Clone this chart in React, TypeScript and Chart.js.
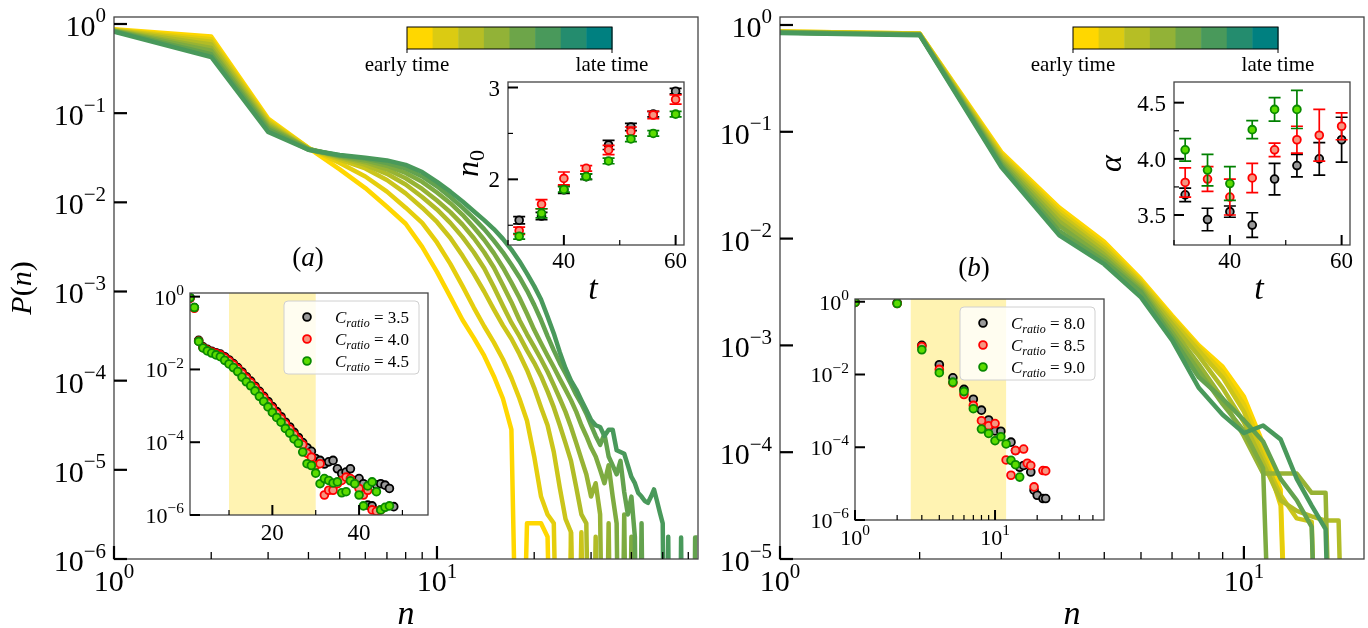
import React, { useEffect, useRef } from 'react';
import { Chart, registerables } from 'chart.js';

Chart.register(...registerables);

const W = 1368;
const H = 628;
const FONT = '"Liberation Serif", "DejaVu Serif", serif';
const Z = -9; // P(n) = 0 : drawn below the axis floor

// ---------- colours ----------
const CBAR_COLORS = ['#FFD700', '#DBCB12', '#B6BE25', '#92B237', '#6DA549', '#49995B', '#248C6E', '#008080'];
const LINE_COLORS = ['#FFD700', '#E5CE0D', '#CBC51A', '#B1BC27', '#97B334', '#7DAB41', '#63A24E', '#49995B'];
const SER_FILL = ['#9a9a9a', '#F59682', '#5CDC00'];
const SER_EDGE = ['#000000', '#FF0000', '#0A8A00'];
const SER_ERR = ['#000000', '#FF0000', '#008000'];

// ---------- panel (a) main : log10 P(n), n = 1, 2, 3, ... (early -> late time) ----------
const aLine0 = [-0.06, -0.14, -1.06, -1.39, -1.63, -1.84, -2.05, -2.24, -2.50, -2.78, -3.06, -3.32, -3.52, -3.72, -3.95, -4.20, -4.55, Z, -5.60, -5.60, -5.60, -5.75, Z];
const aLine1 = [-0.065, -0.17, -1.08, -1.39, -1.56, -1.71, -1.88, -2.06, -2.23, -2.45, -2.69, -2.94, -3.18, -3.39, -3.57, -3.76, -3.97, -4.20, -4.45, -4.85, -5.30, -5.50, -5.60, Z, Z, -5.70, Z];
const aLine2 = [-0.068, -0.20, -1.10, -1.40, -1.52, -1.62, -1.75, -1.90, -2.06, -2.22, -2.40, -2.60, -2.80, -3.00, -3.20, -3.38, -3.53, -3.70, -3.88, -4.08, -4.30, -4.50, -4.80, -5.20, -5.55, -5.70, Z, -5.70, Z];
const aLine3 = [-0.072, -0.23, -1.12, -1.40, -1.50, -1.58, -1.68, -1.80, -1.94, -2.08, -2.23, -2.39, -2.56, -2.74, -2.95, -3.16, -3.35, -3.50, -3.66, -3.80, -3.95, -4.12, -4.30, -4.50, -4.70, -4.90, -5.20, -5.50, -5.60, Z, -5.75, Z];
const aLine4 = [-0.075, -0.27, -1.14, -1.40, -1.49, -1.55, -1.63, -1.73, -1.85, -1.98, -2.11, -2.25, -2.40, -2.56, -2.73, -2.93, -3.12, -3.32, -3.48, -3.62, -3.76, -3.90, -4.05, -4.20, -4.35, -4.52, -4.70, -4.88, -5.05, -5.30, -5.15, -5.50, Z, -5.60, Z];
const aLine5 = [-0.078, -0.30, -1.16, -1.40, -1.48, -1.53, -1.59, -1.67, -1.77, -1.89, -2.01, -2.14, -2.28, -2.42, -2.57, -2.73, -2.90, -3.07, -3.25, -3.43, -3.58, -3.72, -3.85, -3.98, -4.10, -4.22, -4.35, -4.50, -4.62, -4.75, -4.85, -5.00, -5.15, -4.95, -5.30, -5.60, Z, -5.50, Z, -5.75, Z];
const aLine6 = [-0.082, -0.34, -1.18, -1.41, -1.475, -1.51, -1.56, -1.62, -1.71, -1.82, -1.94, -2.06, -2.18, -2.30, -2.43, -2.56, -2.70, -2.84, -2.99, -3.15, -3.32, -3.50, -3.66, -3.80, -3.92, -4.04, -4.16, -4.26, -4.37, -4.50, -4.62, -4.72, -4.60, -4.85, -4.95, -5.05, -4.90, -5.25, -5.50, -5.30, -5.75, Z, -5.60, Z, Z, Z, Z, Z, Z, Z, Z, Z, Z, Z, Z, Z, Z, Z, Z, Z, Z, Z, -5.76, -5.76];
const aLine7 = [-0.085, -0.37, -1.21, -1.41, -1.47, -1.50, -1.53, -1.58, -1.66, -1.77, -1.88, -1.99, -2.10, -2.20, -2.30, -2.41, -2.53, -2.66, -2.80, -2.94, -3.09, -3.28, -3.47, -3.68, -3.86, -4.00, -4.10, -4.22, -4.33, -4.44, -4.50, -4.52, -4.62, -4.55, -4.55, -4.78, -4.80, -4.82, -4.95, -5.08, -5.15, -5.26, -5.30, -5.35, -5.37, -5.30, -5.22, -5.35, -5.48, -5.60, Z, -5.75, Z, Z, Z, Z, -5.76, Z];

// ---------- panel (b) main ----------
const bLine0 = [-0.06, -0.08, -1.19, -1.71, -2.03, -2.38, -2.72, -3.00, -3.20, -3.48, -3.92, -4.35, Z];
const bLine1 = [-0.06, -0.08, -1.21, -1.74, -2.06, -2.40, -2.74, -3.02, -3.25, -3.55, -3.98, -4.50, Z];
const bLine2 = [-0.065, -0.085, -1.23, -1.77, -2.09, -2.42, -2.77, -3.05, -3.30, -3.62, -4.05, -4.40, -4.62, -4.65, Z];
const bLine3 = [-0.065, -0.085, -1.25, -1.80, -2.12, -2.44, -2.80, -3.10, -3.40, -3.72, -4.10, -4.45, -4.55, -4.60, -4.64, -4.64, Z];
const bLine4 = [-0.07, -0.09, -1.27, -1.84, -2.15, -2.46, -2.84, -3.18, -3.50, -3.85, -4.20, -4.20, -4.20, -4.38, -4.38, Z];
const bLine5 = [-0.07, -0.09, -1.29, -1.88, -2.18, -2.48, -2.88, -3.24, -3.55, -3.80, -4.15, Z];
const bLine6 = [-0.07, -0.09, -1.31, -1.93, -2.21, -2.50, -2.92, -3.30, -3.50, -3.70, -3.90, -4.25, -4.45, -4.70, Z];
const bLine7 = [-0.075, -0.095, -1.33, -1.97, -2.24, -2.55, -2.95, -3.40, -3.65, -3.82, -3.75, -3.88, -4.25, -4.50, -4.72, Z];

// ---------- panel (a) upper inset : n0 vs t ----------
const T_A = [32, 36, 40, 44, 48, 52, 56, 60];
const n0_35 = [1.555, 1.60, 1.886, 2.03, 2.375, 2.57, 2.71, 2.96];
const n0_35_err = [0.04, 0.04, 0.04, 0.03, 0.05, 0.04, 0.03, 0.03];
const n0_40 = [1.44, 1.73, 2.01, 2.12, 2.32, 2.52, 2.70, 2.87];
const n0_40_err = [0.04, 0.05, 0.07, 0.03, 0.05, 0.05, 0.04, 0.05];
const n0_45 = [1.38, 1.63, 1.89, 2.03, 2.20, 2.44, 2.50, 2.71];
const n0_45_err = [0.03, 0.05, 0.03, 0.03, 0.03, 0.03, 0.03, 0.03];

// ---------- panel (b) upper inset : alpha vs t ----------
const T_B = [32, 36, 40, 44, 48, 52, 56, 60];
const T_B_GREEN = [32, 36, 40, 44, 48, 52];
const al_80 = [3.68, 3.46, 3.53, 3.41, 3.82, 3.94, 4.00, 4.17];
const al_80_err = [0.06, 0.10, 0.05, 0.11, 0.14, 0.10, 0.145, 0.20];
const al_85 = [3.79, 3.82, 3.66, 3.83, 4.08, 4.17, 4.21, 4.29];
const al_85_err = [0.13, 0.11, 0.16, 0.13, 0.06, 0.12, 0.23, 0.12];
const al_90 = [4.08, 3.90, 3.78, 4.26, 4.44, 4.44];
const al_90_err = [0.10, 0.14, 0.15, 0.08, 0.105, 0.17];

// ---------- panel (a) lower inset : log10 P(n), n = 1, 2, ... ----------
const la_35 = [-0.03, -0.30, -1.20, -1.38, -1.45, -1.50, -1.54, -1.58, -1.65, -1.74, -1.84, -1.95, -2.07, -2.20, -2.32, -2.46, -2.60, -2.74, -2.88, -3.02, -3.16, -3.30, -3.45, -3.58, -3.73, -3.87, -4.01, -4.15, -4.25, -4.45, -4.50, -4.60, -4.54, -4.50, -4.73, -4.86, -4.82, -4.73, -5.05, -5.00, -5.14, -5.73, -5.75, -5.17, -5.14, -5.18, -5.27, -5.77];
const la_40 = [-0.05, -0.32, -1.22, -1.40, -1.47, -1.52, -1.56, -1.60, -1.68, -1.77, -1.87, -1.98, -2.11, -2.24, -2.36, -2.50, -2.64, -2.78, -2.93, -3.07, -3.21, -3.35, -3.50, -3.64, -3.79, -3.93, -4.07, -4.30, -4.41, -4.64, -4.59, -5.45, -5.32, -5.32, -5.14, -5.05, -4.96, -5.00, -5.14, -5.27, -5.45, -5.32, -5.86, -5.90, -5.86];
const la_45 = [-0.03, -0.30, -1.23, -1.41, -1.49, -1.55, -1.60, -1.65, -1.75, -1.85, -1.95, -2.06, -2.21, -2.34, -2.45, -2.59, -2.74, -2.88, -3.03, -3.18, -3.32, -3.45, -3.62, -3.75, -3.91, -4.03, -4.27, -4.59, -4.64, -4.85, -5.14, -5.00, -5.05, -5.12, -5.09, -5.39, -5.36, -5.06, -5.14, -5.45, -5.75, -5.20, -5.09, -5.36, -5.86, -5.79, -5.75];

// ---------- panel (b) lower inset ----------
const nb_80 = [1, 2, 3, 4, 5, 6, 7, 8, 9, 10, 11, 13, 14, 15, 16, 18, 19, 20, 22, 23];
const lb_80 = [-0.02, -0.03, -1.20, -1.73, -2.09, -2.41, -2.68, -2.98, -3.25, -3.55, -3.56, -3.86, -4.09, -4.55, -4.50, -4.68, -5.18, -5.32, -5.41, -5.41];
const nb_85 = [1, 2, 3, 4, 5, 6, 7, 8, 9, 10, 12, 13, 14, 16, 17, 18, 19, 22, 23];
const lb_85 = [-0.02, -0.05, -1.23, -1.86, -2.23, -2.55, -2.85, -3.27, -3.41, -3.35, -4.35, -4.77, -4.09, -4.05, -4.44, -4.50, -5.09, -4.64, -4.65];
const nb_90 = [1, 2, 3, 4, 5, 6, 7, 8, 9, 10, 11, 12, 13, 14, 15];
const lb_90 = [-0.02, -0.05, -1.32, -1.95, -2.21, -2.47, -2.94, -3.50, -3.62, -3.82, -3.71, -3.91, -4.36, -4.48, -4.82];

// ---------- ticks & labels ----------
const A_Y_EXP = [0, -1, -2, -3, -4, -5, -6];
const B_Y_EXP = [0, -1, -2, -3, -4, -5];
const MAIN_X_EXP = [0, 1];
const A_X_MINOR = [2, 3, 4, 5, 6, 7, 8, 9, 20, 30, 40, 50, 60];
const B_X_MINOR = [2, 3, 4, 5, 6, 7, 8, 9];
const TOP_X_TICKS = [40, 60];
const TOP_X_MINOR = [30, 50];
const A_TOP_Y_TICKS = [2, 3];
const A_TOP_Y_MINOR = [1.5, 2.5];
const B_TOP_Y_TICKS = [3.5, 4.0, 4.5];
const B_TOP_Y_MINOR = [3.75, 4.25];
const LOW_Y_EXP = [0, -2, -4, -6];
const A_LOW_X_TICKS = [20, 40];
const A_LOW_X_MINOR = [10, 30, 50];
const B_LOW_X_EXP = [0, 1];
const B_LOW_X_MINOR = [2, 3, 4, 5, 6, 7, 8, 9, 20, 30, 40, 50];
const LEG_A = ['3.5', '4.0', '4.5'];
const LEG_B = ['8.0', '8.5', '9.0'];
const SHADE_A = [10, 30];
const SHADE_B = [2.5, 12];

// ---------- text helpers ----------
type Run = { t: string; it?: boolean; s: number; dy?: number };
const fontOf = (r: Run) => `${r.it ? 'italic ' : ''}${r.s}px ${FONT}`;
function runsWidth(ctx: CanvasRenderingContext2D, runs: Run[]) {
  let w = 0;
  for (const r of runs) { ctx.font = fontOf(r); w += ctx.measureText(r.t).width; }
  return w;
}
function drawRuns(ctx: CanvasRenderingContext2D, runs: Run[], x: number, y: number, align: 'left' | 'center' | 'right') {
  const w = runsWidth(ctx, runs);
  let cx = align === 'center' ? x - w / 2 : align === 'right' ? x - w : x;
  ctx.textAlign = 'left';
  ctx.textBaseline = 'alphabetic';
  for (const r of runs) {
    ctx.font = fontOf(r);
    ctx.fillText(r.t, cx, y + (r.dy || 0));
    cx += ctx.measureText(r.t).width;
  }
}
function drawRotated(ctx: CanvasRenderingContext2D, runs: Run[], x: number, y: number) {
  ctx.save();
  ctx.translate(x, y);
  ctx.rotate(-Math.PI / 2);
  drawRuns(ctx, runs, 0, 0, 'center');
  ctx.restore();
}
const pow10 = (e: number, s: number): Run[] => [
  { t: '10', s },
  { t: e < 0 ? '\u2212' + (-e) : String(e), s: s * 0.7, dy: -s * 0.45 },
];
const plain = (t: string, s: number): Run[] => [{ t, s }];

type AxOpts = {
  xMajor: number[]; xMinor: number[]; yMajor: number[]; yMinor: number[];
  xLab: (i: number) => Run[]; yLab: (i: number) => Run[];
  majLen: number; minLen: number; majW: number; minW: number;
  xLabOff: number; yLabGap: number; yLabOff: number;
};
function drawAxes(chart: any, o: AxOpts) {
  const ctx: CanvasRenderingContext2D = chart.ctx;
  const a = chart.chartArea;
  const xs = chart.scales.x;
  const ys = chart.scales.y;
  ctx.save();
  ctx.strokeStyle = '#444';
  ctx.lineWidth = 1.3;
  ctx.strokeRect(a.left, a.top, a.right - a.left, a.bottom - a.top);
  ctx.strokeStyle = '#000';
  ctx.lineCap = 'butt';
  const xt = (vals: number[], len: number, w: number) => {
    ctx.lineWidth = w;
    vals.forEach((v) => {
      const p = xs.getPixelForValue(v);
      if (p < a.left - 0.5 || p > a.right + 0.5) return;
      ctx.beginPath(); ctx.moveTo(p, a.bottom); ctx.lineTo(p, a.bottom - len); ctx.stroke();
    });
  };
  const yt = (vals: number[], len: number, w: number) => {
    ctx.lineWidth = w;
    vals.forEach((v) => {
      const p = ys.getPixelForValue(v);
      if (p < a.top - 0.5 || p > a.bottom + 0.5) return;
      ctx.beginPath(); ctx.moveTo(a.left, p); ctx.lineTo(a.left + len, p); ctx.stroke();
    });
  };
  xt(o.xMinor, o.minLen, o.minW);
  xt(o.xMajor, o.majLen, o.majW);
  yt(o.yMinor, o.minLen, o.minW);
  yt(o.yMajor, o.majLen, o.majW);
  ctx.fillStyle = '#000';
  o.xMajor.forEach((v, i) => drawRuns(ctx, o.xLab(i), xs.getPixelForValue(v), a.bottom + o.xLabOff, 'center'));
  o.yMajor.forEach((v, i) => drawRuns(ctx, o.yLab(i), a.left - o.yLabGap, ys.getPixelForValue(v) + o.yLabOff, 'right'));
  ctx.restore();
}

function drawMarker(ctx: CanvasRenderingContext2D, x: number, y: number, k: number) {
  ctx.beginPath();
  ctx.arc(x, y, 3.9, 0, Math.PI * 2);
  ctx.fillStyle = SER_FILL[k];
  ctx.fill();
  ctx.lineWidth = 1.8;
  ctx.strokeStyle = SER_EDGE[k];
  ctx.stroke();
}

function drawLegend(chart: any, labels: string[]) {
  const ctx: CanvasRenderingContext2D = chart.ctx;
  const a = chart.chartArea;
  const bw = 135, bh = 73;
  const bx = a.right - 9 - bw, by = a.top + 8;
  ctx.save();
  ctx.beginPath();
  const r = 4;
  ctx.moveTo(bx + r, by);
  ctx.arcTo(bx + bw, by, bx + bw, by + bh, r);
  ctx.arcTo(bx + bw, by + bh, bx, by + bh, r);
  ctx.arcTo(bx, by + bh, bx, by, r);
  ctx.arcTo(bx, by, bx + bw, by, r);
  ctx.closePath();
  ctx.fillStyle = 'rgba(255,255,255,0.8)';
  ctx.fill();
  ctx.strokeStyle = '#d0d0d0';
  ctx.lineWidth = 1;
  ctx.stroke();
  labels.forEach((lab, k) => {
    const cy = by + 16 + k * 22;
    drawMarker(ctx, bx + 23, cy, k);
    ctx.fillStyle = '#000';
    drawRuns(ctx, [
      { t: 'C', it: true, s: 17 },
      { t: 'ratio', it: true, s: 12, dy: 4 },
      { t: ' = ' + lab, s: 17 },
    ], bx + 51, cy + 6, 'left');
  });
  ctx.restore();
}

function drawColorbar(chart: any, letter: string, letterBaseline: number) {
  const ctx: CanvasRenderingContext2D = chart.ctx;
  const a = chart.chartArea;
  const x0 = a.left + 293, w = 205, y0 = a.top + 10, h = 22;
  ctx.save();
  const sw = w / CBAR_COLORS.length;
  CBAR_COLORS.forEach((c, i) => {
    ctx.fillStyle = c;
    ctx.fillRect(x0 + i * sw, y0, sw + 0.5, h);
  });
  ctx.strokeStyle = '#000';
  ctx.lineWidth = 1;
  ctx.strokeRect(x0, y0, w, h);
  ctx.beginPath();
  ctx.moveTo(x0, y0 + h); ctx.lineTo(x0, y0 + h + 4);
  ctx.moveTo(x0 + w, y0 + h); ctx.lineTo(x0 + w, y0 + h + 4);
  ctx.stroke();
  ctx.fillStyle = '#000';
  drawRuns(ctx, plain('early time', 21), x0, a.top + 54, 'center');
  drawRuns(ctx, plain('late time', 21), x0 + w, a.top + 54, 'center');
  drawRuns(ctx, [{ t: '(', s: 27 }, { t: letter, it: true, s: 27 }, { t: ')', s: 27 }], a.left + 194, letterBaseline, 'center');
  ctx.restore();
}

const bgPlugin = (shade?: number[]) => ({
  id: 'bg',
  beforeDatasetsDraw(chart: any) {
    const ctx: CanvasRenderingContext2D = chart.ctx;
    const a = chart.chartArea;
    ctx.save();
    ctx.fillStyle = '#ffffff';
    ctx.fillRect(a.left, a.top, a.right - a.left, a.bottom - a.top);
    if (shade) {
      const x1 = chart.scales.x.getPixelForValue(shade[0]);
      const x2 = chart.scales.x.getPixelForValue(shade[1]);
      ctx.fillStyle = 'rgba(255,215,0,0.3)';
      ctx.fillRect(x1, a.top, x2 - x1, a.bottom - a.top);
    }
    ctx.restore();
  },
});

const errPlugin = {
  id: 'errbars',
  beforeDatasetDraw(chart: any, args: any) {
    const ds: any = chart.data.datasets[args.index];
    if (!ds.err) return;
    const ctx: CanvasRenderingContext2D = chart.ctx;
    const a = chart.chartArea;
    const xs = chart.scales.x, ys = chart.scales.y;
    ctx.save();
    ctx.beginPath();
    ctx.rect(a.left, a.top, a.right - a.left, a.bottom - a.top);
    ctx.clip();
    ctx.strokeStyle = ds.errColor;
    ctx.lineWidth = 1.7;
    ds.data.forEach((p: any, i: number) => {
      const px = xs.getPixelForValue(p.x);
      const y1 = ys.getPixelForValue(p.y - ds.err[i]);
      const y2 = ys.getPixelForValue(p.y + ds.err[i]);
      ctx.beginPath();
      ctx.moveTo(px, y1); ctx.lineTo(px, y2);
      ctx.moveTo(px - 6, y1); ctx.lineTo(px + 6, y1);
      ctx.moveTo(px - 6, y2); ctx.lineTo(px + 6, y2);
      ctx.stroke();
    });
    ctx.restore();
  },
};

const fromLogs = (logs: number[]) => logs.map((v, i) => ({ x: i + 1, y: v === null ? null : Math.pow(10, v) }));
const fromPairs = (ns: number[], logs: number[]) => ns.map((n, i) => ({ x: n, y: Math.pow(10, logs[i]) }));
const fromXY = (xs: number[], ys: number[]) => xs.map((x, i) => ({ x, y: ys[i] }));

const baseOpts = (area: { l: number; t: number; r: number; b: number }, x: any, y: any) => ({
  responsive: false,
  animation: false,
  devicePixelRatio: 1,
  events: [],
  layout: { padding: { left: area.l, top: area.t, right: W - area.r, bottom: H - area.b } },
  scales: {
    x: { display: false, bounds: 'data', ...x },
    y: { display: false, bounds: 'data', ...y },
  },
  plugins: { legend: { display: false }, tooltip: { enabled: false } },
});

const scatterSet = (data: any[], k: number, err?: number[]) => ({
  data,
  showLine: false,
  pointRadius: 3.9,
  pointBorderWidth: 1.8,
  pointBackgroundColor: SER_FILL[k],
  pointBorderColor: SER_EDGE[k],
  backgroundColor: SER_FILL[k],
  borderColor: SER_EDGE[k],
  order: 2 - k,
  clip: 0,
  err,
  errColor: SER_ERR[k],
});

const lineSet = (logs: number[], k: number) => ({
  data: fromLogs(logs),
  borderColor: LINE_COLORS[k],
  borderWidth: 4.5,
  pointRadius: 0,
  tension: 0,
  fill: false,
  spanGaps: false,
  order: 7 - k,
  clip: 0,
  borderJoinStyle: 'round',
  borderCapStyle: 'butt',
});

function mainConfig(lines: number[][], area: any, xMax: number, yExp: number[], xMinor: number[], letter: string, letterBase: number, yTitle: boolean) {
  return {
    type: 'line',
    data: { datasets: lines.map((l, k) => lineSet(l, k)) },
    options: baseOpts(area,
      { type: 'logarithmic', min: 1, max: xMax },
      { type: 'logarithmic', min: Math.pow(10, yExp[yExp.length - 1]), max: area.yMax }),
    plugins: [{
      id: 'mainDecor',
      afterDraw(chart: any) {
        const ctx: CanvasRenderingContext2D = chart.ctx;
        const a = chart.chartArea;
        drawAxes(chart, {
          xMajor: MAIN_X_EXP.map((e) => Math.pow(10, e)), xMinor,
          yMajor: yExp.map((e) => Math.pow(10, e)), yMinor: [],
          xLab: (i) => pow10(MAIN_X_EXP[i], 30), yLab: (i) => pow10(yExp[i], 30),
          majLen: 13, minLen: 7, majW: 2.2, minW: 1.3,
          xLabOff: 32, yLabGap: 8, yLabOff: 12,
        });
        drawColorbar(chart, letter, letterBase);
        ctx.save();
        ctx.fillStyle = '#000';
        drawRuns(ctx, [{ t: 'n', it: true, s: 34 }], (a.left + a.right) / 2, 624, 'center');
        if (yTitle) {
          drawRotated(ctx, [{ t: 'P', it: true, s: 30 }, { t: '(', s: 30 }, { t: 'n', it: true, s: 30 }, { t: ')', s: 30 }], 31, (a.top + a.bottom) / 2);
        }
        ctx.restore();
      },
    }],
  };
}

function topInsetConfig(sets: any[], area: any, yMin: number, yMax: number, yTicks: number[], yMinor: number[], yLabels: string[], yTitle: Run[], yTitleX: number) {
  return {
    type: 'scatter',
    data: { datasets: sets },
    options: baseOpts(area, { type: 'linear', min: 30, max: 61.5 }, { type: 'linear', min: yMin, max: yMax }),
    plugins: [bgPlugin(), errPlugin, {
      id: 'topDecor',
      afterDraw(chart: any) {
        const ctx: CanvasRenderingContext2D = chart.ctx;
        const a = chart.chartArea;
        drawAxes(chart, {
          xMajor: TOP_X_TICKS, xMinor: TOP_X_MINOR, yMajor: yTicks, yMinor,
          xLab: (i) => plain(String(TOP_X_TICKS[i]), 23), yLab: (i) => plain(yLabels[i], 23),
          majLen: 10, minLen: 5, majW: 2, minW: 1.2,
          xLabOff: 23, yLabGap: 8, yLabOff: 8,
        });
        ctx.save();
        ctx.fillStyle = '#000';
        drawRuns(ctx, [{ t: 't', it: true, s: 34 }], (a.left + a.right) / 2 - 3, a.bottom + 54, 'center');
        drawRotated(ctx, yTitle, yTitleX, (a.top + a.bottom) / 2);
        ctx.restore();
      },
    }],
  };
}

function lowInsetConfig(sets: any[], area: any, x: any, shade: number[], xMajor: number[], xMinor: number[], xLab: (i: number) => Run[], legend: string[]) {
  return {
    type: 'scatter',
    data: { datasets: sets },
    options: baseOpts(area, x, { type: 'logarithmic', min: 1e-6, max: area.yMax }),
    plugins: [bgPlugin(shade), {
      id: 'lowDecor',
      afterDraw(chart: any) {
        drawAxes(chart, {
          xMajor, xMinor, yMajor: LOW_Y_EXP.map((e) => Math.pow(10, e)), yMinor: [],
          xLab, yLab: (i) => pow10(LOW_Y_EXP[i], 22),
          majLen: 10, minLen: 5, majW: 2, minW: 1.2,
          xLabOff: 25, yLabGap: 6, yLabOff: 8,
        });
        drawLegend(chart, legend);
      },
    }],
  };
}

export default function App() {
  const refs = [useRef<HTMLCanvasElement>(null), useRef<HTMLCanvasElement>(null), useRef<HTMLCanvasElement>(null),
    useRef<HTMLCanvasElement>(null), useRef<HTMLCanvasElement>(null), useRef<HTMLCanvasElement>(null)];

  useEffect(() => {
    document.body.style.margin = '0';
    const configs: any[] = [
      mainConfig([aLine0, aLine1, aLine2, aLine3, aLine4, aLine5, aLine6, aLine7],
        { l: 114, t: 17, r: 698, b: 559, yMax: 1.198 }, 64.3, A_Y_EXP, A_X_MINOR, 'a', 266, true),
      mainConfig([bLine0, bLine1, bLine2, bLine3, bLine4, bLine5, bLine6, bLine7],
        { l: 780, t: 17, r: 1364, b: 559, yMax: 1.188 }, 18.15, B_Y_EXP, B_X_MINOR, 'b', 276, false),
      topInsetConfig([
        scatterSet(fromXY(T_A, n0_35), 0, n0_35_err),
        scatterSet(fromXY(T_A, n0_40), 1, n0_40_err),
        scatterSet(fromXY(T_A, n0_45), 2, n0_45_err),
      ], { l: 508, t: 82, r: 684, b: 245 }, 1.285, 3.06, A_TOP_Y_TICKS, A_TOP_Y_MINOR, ['2', '3'],
        [{ t: 'n', it: true, s: 32 }, { t: '0', s: 22, dy: 6 }], 478),
      topInsetConfig([
        scatterSet(fromXY(T_B, al_80), 0, al_80_err),
        scatterSet(fromXY(T_B, al_85), 1, al_85_err),
        scatterSet(fromXY(T_B_GREEN, al_90), 2, al_90_err),
      ], { l: 1174, t: 82, r: 1350, b: 245 }, 3.233, 4.684, B_TOP_Y_TICKS, B_TOP_Y_MINOR, ['3.5', '4.0', '4.5'],
        [{ t: '\u03B1', it: true, s: 32 }], 1121),
      lowInsetConfig([
        scatterSet(fromLogs(la_35), 0),
        scatterSet(fromLogs(la_40), 1),
        scatterSet(fromLogs(la_45), 2),
      ], { l: 190, t: 293, r: 428, b: 515, yMax: 1.26 }, { type: 'linear', min: 1, max: 55.9 }, SHADE_A,
        A_LOW_X_TICKS, A_LOW_X_MINOR, (i) => plain(String(A_LOW_X_TICKS[i]), 23), LEG_A),
      lowInsetConfig([
        scatterSet(fromPairs(nb_80, lb_80), 0),
        scatterSet(fromPairs(nb_85, lb_85), 1),
        scatterSet(fromPairs(nb_90, lb_90), 2),
      ], { l: 855, t: 299, r: 1104, b: 520, yMax: 1.19 }, { type: 'logarithmic', min: 1, max: 60 }, SHADE_B,
        B_LOW_X_EXP.map((e) => Math.pow(10, e)), B_LOW_X_MINOR, (i) => pow10(B_LOW_X_EXP[i], 22), LEG_B),
    ];
    const charts = configs.map((cfg, i) => new Chart(refs[i].current as HTMLCanvasElement, cfg));
    return () => charts.forEach((c) => c.destroy());
  }, []);

  return (
    <div style={{ position: 'absolute', left: 0, top: 0, width: W, height: H, background: '#fff' }}>
      {refs.map((r, i) => (
        <canvas key={i} ref={r} width={W} height={H}
          style={{ position: 'absolute', left: 0, top: 0, width: W, height: H }} />
      ))}
    </div>
  );
}
